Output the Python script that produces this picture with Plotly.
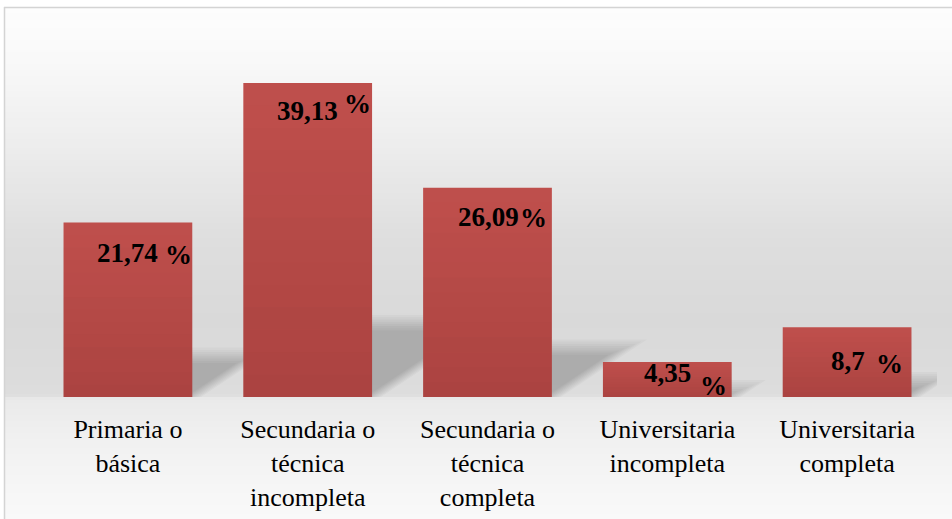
import plotly.graph_objects as go

# ---- data ----
categories = [
    "Primaria o<br>básica",
    "Secundaria o<br>técnica<br>incompleta",
    "Secundaria o<br>técnica<br>completa",
    "Universitaria<br>incompleta",
    "Universitaria<br>completa",
]
values = [21.74, 39.13, 26.09, 4.35, 8.7]
value_labels = ["21,74", "39,13", "26,09", "4,35", "8,7"]
pct_sign = "%"

# ---- style ----
W, H = 952, 519
ML, MR, MT, MB = 38, 15, 36, 122
PX0, PX1 = ML, W - MR
PY0, PY1 = MT, H - MB
YMAX = 45
FONT = "Liberation Serif, DejaVu Serif, Times New Roman, serif"
BAR_COLOR = "#c0504d"

# label offsets (pixels) relative to bar top-centre
num_dx = [0, 0, 1, 0, 1]
num_dy = [-30, -28, -29, -11, -34]
pct_dx = [51, 50, 46, 46, 42]
pct_dy = [-32, -21, -30, -24, -37]


def px_to_paper_x(px):
    return (px - PX0) / (PX1 - PX0)


def py_to_paper_y(py):
    return (PY1 - py) / (PY1 - PY0)


shapes = []

# background gradient (wall + floor)
profile = [(7, 253), (60, 249), (150, 236), (240, 222), (320, 217), (395, 221),
           (399, 234), (450, 242), (519, 249)]


def gray_at(py):
    for (a, ga), (b, gb) in zip(profile, profile[1:]):
        if a <= py <= b:
            t = (py - a) / (b - a) if b > a else 0
            return ga + (gb - ga) * t
    return profile[-1][1]


step = 3
py = 7
while py < H:
    g = int(round(gray_at(py + step / 2)))
    shapes.append(dict(type="rect", xref="paper", yref="paper", layer="below",
                       x0=px_to_paper_x(4), x1=px_to_paper_x(W + 2),
                       y0=py_to_paper_y(min(py + step, H + 2)), y1=py_to_paper_y(py),
                       fillcolor=f"rgb({g},{g},{g})", line=dict(width=0)))
    py += step

# border (left + top)
shapes.append(dict(type="line", xref="paper", yref="paper", layer="below",
                   x0=px_to_paper_x(4.5), x1=px_to_paper_x(4.5),
                   y0=py_to_paper_y(7), y1=py_to_paper_y(H + 2),
                   line=dict(color="#d4d4d4", width=1.5)))
shapes.append(dict(type="line", xref="paper", yref="paper", layer="below",
                   x0=px_to_paper_x(4), x1=px_to_paper_x(W + 2),
                   y0=py_to_paper_y(7.5), y1=py_to_paper_y(7.5),
                   line=dict(color="#d4d4d4", width=1.5)))

# soft cast shadows behind bars (derived from values)
half = 0.358
px_per_cat = (PX1 - PX0) / len(categories)
px_per_unit = (PY1 - PY0) / YMAX
nl = 8
for i, v in enumerate(values):
    dy_px = 1.87 * v
    dx_px = 1.5 * dy_px
    for k in range(nl):
        s = (k - nl / 2) * 2.2  # inset in px (negative -> grow)
        top = max(dy_px - s, 0) / px_per_unit
        dx = (dx_px - 1.5 * s) / px_per_cat
        xl = i - half
        xr = i + half - s / px_per_cat
        path = (f"M {xl},0 L {xr},0 L {xr + dx},{top} L {xl + dx},{top} Z")
        shapes.append(dict(type="path", xref="x", yref="y", layer="below",
                           path=path, fillcolor="rgba(0,0,0,0.028)",
                           line=dict(width=0)))

# vertical shading on bars (darker toward the base)
n = 14
for i, v in enumerate(values):
    for k in range(n):
        y0 = v * k / n
        y1 = v * (k + 1) / n
        a = 0.16 * (1 - (k + 0.5) / n)
        shapes.append(dict(type="rect", xref="x", yref="y", layer="above",
                           x0=i - half, x1=i + half, y0=y0, y1=y1,
                           fillcolor=f"rgba(60,0,0,{a:.3f})", line=dict(width=0)))

fig = go.Figure(go.Bar(
    x=list(range(len(categories))), y=values, width=2 * half,
    marker=dict(color=BAR_COLOR, line=dict(width=0)),
    hoverinfo="skip",
))

annotations = []
for i, v in enumerate(values):
    annotations.append(dict(x=i, y=v, xref="x", yref="y", text=value_labels[i],
                            showarrow=False, xanchor="center", yanchor="middle",
                            xshift=num_dx[i], yshift=num_dy[i],
                            font=dict(family=FONT, size=27, color="black", weight="bold")))
    annotations.append(dict(x=i, y=v, xref="x", yref="y", text=pct_sign,
                            showarrow=False, xanchor="center", yanchor="middle",
                            xshift=pct_dx[i], yshift=pct_dy[i],
                            font=dict(family=FONT, size=27, color="black", weight="bold")))

fig.update_layout(
    width=W, height=H,
    margin=dict(l=ML, r=MR, t=MT, b=MB, pad=0, autoexpand=False),
    paper_bgcolor="white", plot_bgcolor="rgba(0,0,0,0)",
    showlegend=False,
    shapes=shapes, annotations=annotations,
    xaxis=dict(tickmode="array", tickvals=list(range(len(categories))),
               ticktext=categories, range=[-0.5, len(categories) - 0.5],
               showgrid=False, zeroline=False, showline=False, ticks="",
               automargin=False, ticklabelstandoff=14,
               tickfont=dict(family=FONT, size=26, color="black")),
    yaxis=dict(range=[0, YMAX], visible=False, showgrid=False, zeroline=False,
               automargin=False),
)

fig.write_html("out.html", config={"displayModeBar": False},
               post_script="document.body.style.margin='0px';")
